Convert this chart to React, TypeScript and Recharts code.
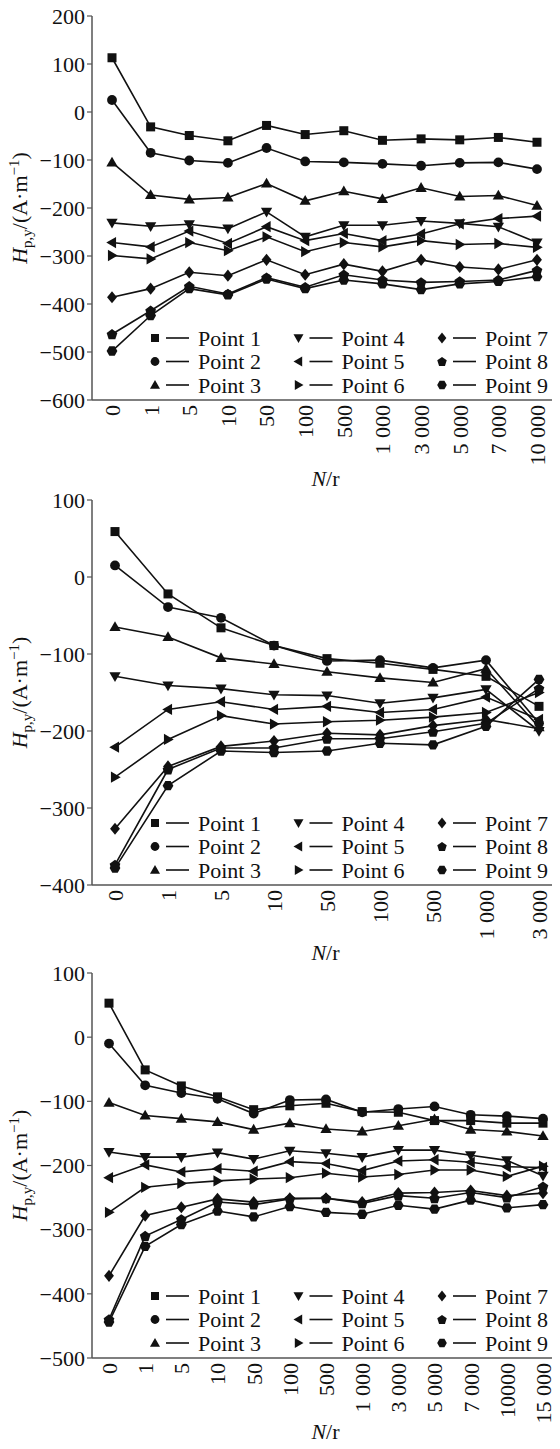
import React from 'react';
import { LineChart, Line, XAxis, YAxis, Legend } from 'recharts';

const FONT = "'Liberation Serif', 'Times New Roman', serif";
const INK = '#111';
const FRAME = '#555';

// ---- panel (a)
const catsA = ['0', '1', '5', '10', '50', '100', '500', '1 000', '3 000', '5 000', '7 000', '10 000'];
const a1 = [113, -31, -49, -60, -28, -47, -39, -59, -56, -58, -53, -63];
const a2 = [25, -85, -101, -106, -75, -103, -105, -108, -112, -106, -105, -119];
const a3 = [-105, -173, -182, -178, -149, -185, -165, -181, -158, -176, -174, -195];
const a4 = [-231, -238, -234, -243, -208, -260, -236, -236, -227, -232, -239, -272];
const a5 = [-272, -281, -248, -274, -239, -268, -253, -268, -254, -233, -222, -217];
const a6 = [-299, -306, -272, -289, -260, -291, -272, -281, -268, -276, -274, -282];
const a7 = [-386, -368, -334, -341, -308, -339, -317, -332, -308, -323, -328, -308];
const a8 = [-463, -414, -363, -379, -345, -365, -339, -350, -355, -353, -350, -330];
const a9 = [-498, -424, -368, -381, -348, -368, -350, -358, -370, -358, -353, -343];
const ticksA = [-600, -500, -400, -300, -200, -100, 0, 100, 200];

// ---- panel (b)
const catsB = ['0', '1', '5', '10', '50', '100', '500', '1 000', '3 000'];
const b1 = [59, -22, -66, -89, -106, -112, -120, -129, -168];
const b2 = [15, -39, -53, -89, -109, -108, -118, -108, -190];
const b3 = [-65, -78, -105, -113, -123, -131, -137, -119, -195];
const b4 = [-129, -141, -145, -153, -154, -164, -157, -146, -200];
const b5 = [-221, -172, -162, -172, -168, -176, -172, -156, -185];
const b6 = [-260, -211, -180, -191, -188, -186, -182, -176, -150];
const b7 = [-327, -246, -220, -213, -203, -205, -193, -185, -197];
const b8 = [-374, -250, -222, -222, -210, -210, -201, -190, -145];
const b9 = [-378, -271, -226, -228, -226, -216, -218, -194, -133];
const ticksB = [-400, -300, -200, -100, 0, 100];

// ---- panel (c)
const catsC = ['0', '1', '5', '10', '50', '100', '500', '1 000', '3 000', '5 000', '7 000', '10000', '15 000'];
const c1 = [53, -51, -76, -93, -113, -107, -103, -116, -117, -130, -130, -134, -134];
const c2 = [-10, -75, -87, -96, -119, -98, -97, -117, -112, -108, -121, -123, -127];
const c3 = [-102, -122, -127, -132, -144, -134, -143, -147, -138, -128, -144, -147, -154];
const c4 = [-179, -187, -187, -180, -190, -177, -181, -187, -176, -176, -184, -192, -216];
const c5 = [-219, -199, -210, -205, -209, -194, -197, -208, -193, -191, -195, -202, -203];
const c6 = [-273, -234, -228, -224, -221, -219, -212, -218, -214, -207, -207, -217, -201];
const c7 = [-372, -278, -265, -252, -257, -251, -251, -257, -243, -242, -239, -247, -243];
const c8 = [-440, -310, -284, -257, -261, -252, -251, -259, -247, -251, -242, -250, -233];
const c9 = [-444, -326, -292, -271, -280, -264, -273, -276, -262, -268, -254, -266, -261];
const ticksC = [-500, -400, -300, -200, -100, 0, 100];

const NAMES = ['Point 1', 'Point 2', 'Point 3', 'Point 4', 'Point 5', 'Point 6', 'Point 7', 'Point 8', 'Point 9'];
const SHAPES = ['square', 'circle', 'up', 'down', 'left', 'right', 'diamond', 'pentagon', 'hexagon'];

function poly(cx: number, cy: number, n: number, rad: number, start: number) {
  const pts: string[] = [];
  for (let k = 0; k < n; k++) {
    const a = start + (k * 2 * Math.PI) / n;
    pts.push(`${cx + rad * Math.cos(a)},${cy + rad * Math.sin(a)}`);
  }
  return pts.join(' ');
}

function Marker({ shape, cx, cy, r = 4.5 }: { shape: string; cx: number; cy: number; r?: number }) {
  if (cx == null || cy == null) return null;
  switch (shape) {
    case 'square':
      return <rect x={cx - r} y={cy - r} width={2 * r} height={2 * r} fill={INK} />;
    case 'circle':
      return <circle cx={cx} cy={cy} r={r + 0.4} fill={INK} />;
    case 'up':
      return <polygon points={poly(cx, cy + 0.8, 3, r * 1.45, -Math.PI / 2)} fill={INK} />;
    case 'down':
      return <polygon points={poly(cx, cy - 0.8, 3, r * 1.45, Math.PI / 2)} fill={INK} />;
    case 'left':
      return <polygon points={poly(cx + 0.8, cy, 3, r * 1.45, Math.PI)} fill={INK} />;
    case 'right':
      return <polygon points={poly(cx - 0.8, cy, 3, r * 1.45, 0)} fill={INK} />;
    case 'diamond':
      return <polygon points={`${cx},${cy - r * 1.35} ${cx + r * 1.1},${cy} ${cx},${cy + r * 1.35} ${cx - r * 1.1},${cy}`} fill={INK} />;
    case 'pentagon':
      return <polygon points={poly(cx, cy + 0.4, 5, r * 1.25, -Math.PI / 2)} fill={INK} />;
    default:
      return <polygon points={poly(cx, cy, 6, r * 1.2, 0)} fill={INK} />;
  }
}

const minus = (v: number) => String(v).replace('-', '\u2212');

function XTick({ x, y, payload }: any) {
  return (
    <text x={x} y={y} transform={`rotate(-90 ${x} ${y})`} textAnchor="end" dy="0.36em"
      fontFamily={FONT} fontSize={22} fill={INK}>
      {payload.value}
    </text>
  );
}

function LegendBox({ payload }: any) {
  const items = (payload && payload.length ? payload.map((p: any) => p.value) : NAMES) as string[];
  return (
    <svg width={420} height={74} style={{ display: 'block' }}>
      {items.map((name, i) => {
        const col = Math.floor(i / 3);
        const row = i % 3;
        const x0 = 15 + col * 143.5;
        const cy = 12 + row * 23.5;
        return (
          <g key={name}>
            <Marker shape={SHAPES[i]} cx={x0} cy={cy} r={4} />
            <line x1={x0 + 11} x2={x0 + 34} y1={cy} y2={cy} stroke={INK} strokeWidth={1.6} />
            <text x={x0 + 43} y={cy + 7.5} fontFamily={FONT} fontSize={22} fill={INK}>{name}</text>
          </g>
        );
      })}
    </svg>
  );
}

type PanelProps = {
  tag: string;
  cats: string[];
  series: number[][];
  ticks: number[];
  top: number;
  height: number;
  marginTop: number;
  xHeight: number;
  pad: { left: number; right: number };
  legendTop: number;
  titleDy: number;
  tagDx: number;
  tagDy: number;
};

function Panel(p: PanelProps) {
  const data = p.cats.map((c, i) => {
    const row: any = { n: c };
    p.series.forEach((s, k) => { row['p' + (k + 1)] = s[i]; });
    return row;
  });
  const lo = p.ticks[0];
  const hi = p.ticks[p.ticks.length - 1];

  const xTitle = ({ viewBox }: any) => (
    <text x={viewBox.x + viewBox.width / 2} y={viewBox.y + p.titleDy} textAnchor="middle"
      fontFamily={FONT} fontSize={22} fill={INK}>
      <tspan fontStyle="italic">N</tspan>/r
    </text>
  );
  const yTitle = ({ viewBox }: any) => {
    const cx = 27;
    const cy = viewBox.y + viewBox.height / 2;
    return (
      <text x={cx} y={cy} transform={`rotate(-90 ${cx} ${cy})`} textAnchor="middle"
        fontFamily={FONT} fontSize={22} fill={INK}>
        <tspan fontStyle="italic">H</tspan>
        <tspan fontSize={15} dy={5}>p,y</tspan>
        <tspan dy={-5}>/(A·m</tspan>
        <tspan fontSize={15} dy={-8}>−1</tspan>
        <tspan dy={8}>)</tspan>
      </text>
    );
  };
  const tagLabel = ({ viewBox }: any) => (
    <text x={viewBox.x + p.tagDx} y={viewBox.y + viewBox.height + p.tagDy}
      fontFamily={FONT} fontSize={22} fill={INK}>{p.tag}</text>
  );

  return (
    <div style={{ position: 'absolute', left: 0, top: p.top }}>
      <LineChart width={560} height={p.height} data={data}
        margin={{ top: p.marginTop, right: 1, bottom: 0, left: 0 }}>
        <XAxis dataKey="n" interval={0} height={p.xHeight} padding={p.pad}
          axisLine={{ stroke: FRAME, strokeWidth: 1.5 }} tickLine={false}
          tickSize={0} tickMargin={5} tick={<XTick />} label={{ content: xTitle }} />
        <XAxis xAxisId="top" orientation="top" dataKey="n" height={0} tick={false} tickLine={false}
          axisLine={{ stroke: FRAME, strokeWidth: 1.5 }} label={{ content: tagLabel }} />
        <YAxis type="number" domain={[lo, hi]} ticks={p.ticks} width={92} interval={0}
          axisLine={{ stroke: FRAME, strokeWidth: 1.5 }} tickLine={{ stroke: FRAME, strokeWidth: 1.2 }}
          tickSize={5} tickMargin={2} tickFormatter={minus}
          tick={{ fontFamily: FONT, fontSize: 22, fill: INK }} label={{ content: yTitle }} />
        <YAxis yAxisId="right" orientation="right" type="number" domain={[0, 1]} width={0}
          tick={false} tickLine={false} axisLine={{ stroke: FRAME, strokeWidth: 1.5 }} />
        <Legend layout="horizontal" verticalAlign="middle" align="center" content={<LegendBox />}
          wrapperStyle={{ position: 'absolute', left: 140, top: p.legendTop, width: 420, height: 74 }} />
        {p.series.map((_, k) => (
          <Line key={k} dataKey={'p' + (k + 1)} name={NAMES[k]} type="linear" stroke={INK}
            strokeWidth={1.6} isAnimationActive={false}
            dot={(d: any) => <Marker key={d.index} shape={SHAPES[k]} cx={d.cx} cy={d.cy} />}
            activeDot={false} />
        ))}
      </LineChart>
    </div>
  );
}

export default function App() {
  return (
    <div style={{ position: 'relative', width: 560, height: 1449, margin: -8, background: '#fff' }}>
      <Panel tag="(a)" cats={catsA} series={[a1, a2, a3, a4, a5, a6, a7, a8, a9]} ticks={ticksA}
        top={0} height={490} marginTop={16} xHeight={90} pad={{ left: 20, right: 22 }}
        legendTop={326} titleDy={86} tagDx={6} tagDy={21} />
      <Panel tag="(b)" cats={catsB} series={[b1, b2, b3, b4, b5, b6, b7, b8, b9]} ticks={ticksB}
        top={480} height={485} marginTop={20} xHeight={80} pad={{ left: 23, right: 20 }}
        legendTop={331} titleDy={75} tagDx={4} tagDy={19} />
      <Panel tag="(c)" cats={catsC} series={[c1, c2, c3, c4, c5, c6, c7, c8, c9]} ticks={ticksC}
        top={950} height={499} marginTop={23} xHeight={91} pad={{ left: 17, right: 16 }}
        legendTop={334} titleDy={81} tagDx={10} tagDy={21} />
    </div>
  );
}
